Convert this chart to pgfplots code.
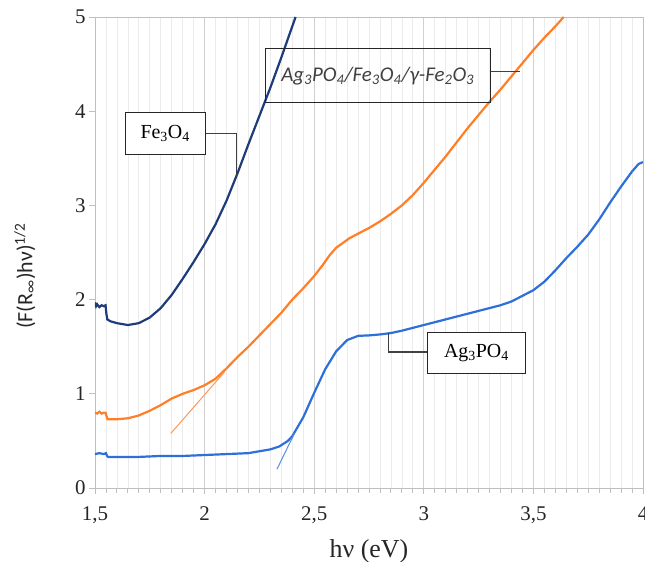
\documentclass[border=0pt]{standalone}
\usepackage{fontspec}
\setmainfont{Liberation Serif}
\newfontfamily\calib{Carlito}
\usepackage{pgfplots}
\pgfplotsset{compat=1.18}

\definecolor{navyc}{HTML}{1F3C7A}
\definecolor{orangec}{HTML}{FF7F27}
\definecolor{bluec}{HTML}{2E6FD8}
\definecolor{gridmaj}{HTML}{D0D0D0}
\definecolor{gridmin}{HTML}{EBEBEB}
\definecolor{axisc}{HTML}{BFBFBF}
\definecolor{connc}{HTML}{404040}

\begin{document}
\begin{tikzpicture}
\begin{axis}[
  scale only axis,
  width=548bp, height=471bp,
  xmin=1.5, xmax=4, ymin=0, ymax=5,
  xtick={1.5,2,...,4}, ytick={0,1,...,5},
  minor x tick num=9,
  xmajorgrids, xminorgrids,
  major grid style={draw=gridmaj, line width=0.9pt},
  minor grid style={draw=gridmin, line width=0.7pt},
  axis line style={draw=axisc, line width=0.9pt},
  tick style={draw=axisc, line width=0.9pt},
  tick align=outside,
  xtick pos=bottom, ytick pos=left,
  major tick length=6bp, minor tick length=5bp,
  /pgf/number format/use comma,
  /pgf/number format/assume math mode=true,
  ticklabel style={font=\rmfamily\fontsize{21}{25}\selectfont, text=black!85},
  xticklabel style={yshift=-9bp},
  xlabel={hν (eV)},
  xlabel style={font=\fontsize{26}{30}\selectfont, text=black!85, yshift=-9bp},
  ylabel={\calib (F(R\textsubscript{∞})hν)\textsuperscript{1/2}},
  ylabel style={font=\fontsize{22}{26}\selectfont, text=black!85,
    at={(axis description cs:-0.128,0.45)}, anchor=center},
]
\coordinate (bl) at (rel axis cs:0,0);
\coordinate (tr) at (rel axis cs:1,1);

% Fe3O4
\addplot[navyc, line width=2.2bp] coordinates {
(1.500,1.97) (1.505,1.93) (1.510,1.95) (1.520,1.92) (1.530,1.94)
(1.540,1.93) (1.548,1.94) (1.552,1.85) (1.556,1.79) (1.570,1.77)
(1.600,1.75) (1.650,1.73) (1.700,1.75) (1.750,1.81) (1.800,1.91)
(1.850,2.05) (1.900,2.22) (1.950,2.40) (2.000,2.59) (2.050,2.80)
(2.100,3.05) (2.150,3.34) (2.200,3.65) (2.250,3.95) (2.300,4.25)
(2.350,4.57) (2.415,5.00)
};

% Ag3PO4/Fe3O4/gamma-Fe2O3
\addplot[orangec, line width=2.2bp] coordinates {
(1.500,0.80) (1.510,0.79) (1.520,0.81) (1.530,0.79) (1.540,0.80)
(1.548,0.80) (1.553,0.76) (1.557,0.73) (1.600,0.73) (1.650,0.74)
(1.700,0.77) (1.750,0.82) (1.800,0.88) (1.850,0.95) (1.900,1.00)
(1.950,1.04) (2.000,1.09) (2.050,1.16) (2.100,1.27) (2.150,1.39)
(2.200,1.50) (2.250,1.62) (2.300,1.74) (2.350,1.86) (2.400,2.00)
(2.450,2.12) (2.500,2.25) (2.540,2.37) (2.570,2.47) (2.600,2.55)
(2.630,2.60) (2.660,2.65) (2.700,2.70) (2.750,2.76) (2.800,2.83)
(2.850,2.91) (2.900,3.00) (2.950,3.11) (3.000,3.24) (3.050,3.38)
(3.100,3.52) (3.150,3.67) (3.200,3.82) (3.250,3.96) (3.300,4.10)
(3.350,4.23) (3.400,4.37) (3.450,4.51) (3.500,4.65) (3.550,4.78)
(3.600,4.90) (3.638,5.00)
};

% Ag3PO4
\addplot[bluec, line width=2.2bp] coordinates {
(1.500,0.36) (1.520,0.37) (1.540,0.36) (1.550,0.37) (1.555,0.34)
(1.560,0.33) (1.600,0.33) (1.700,0.33) (1.800,0.34) (1.900,0.34)
(2.000,0.35) (2.100,0.36) (2.200,0.37) (2.250,0.39) (2.300,0.41)
(2.340,0.44) (2.380,0.50) (2.400,0.55) (2.450,0.75) (2.500,1.01)
(2.550,1.26) (2.600,1.45) (2.650,1.57) (2.700,1.615) (2.750,1.62)
(2.800,1.63) (2.850,1.645) (2.900,1.67) (2.950,1.70) (3.000,1.73)
(3.050,1.76) (3.100,1.79) (3.150,1.82) (3.200,1.85) (3.250,1.88)
(3.300,1.91) (3.350,1.94) (3.400,1.98) (3.450,2.04) (3.500,2.10)
(3.550,2.19) (3.600,2.31) (3.650,2.44) (3.700,2.56) (3.750,2.69)
(3.800,2.85) (3.850,3.03) (3.900,3.20) (3.950,3.36) (3.980,3.44)
(4.000,3.46)
};

% tangent lines
\addplot[orangec!80, line width=1bp] coordinates {(1.846,0.58) (2.09,1.23)};
\addplot[bluec!80, line width=1bp] coordinates {(2.33,0.20) (2.41,0.58)};

% labels
\draw[connc, line width=1.3bp] (axis cs:2.002,3.76) -- (axis cs:2.144,3.76) -- (axis cs:2.144,3.30);
\node[draw=black!85, fill=white, line width=1.1bp, minimum width=80bp, minimum height=42bp, inner sep=0pt,
  font=\fontsize{20}{24}\selectfont] at (axis cs:1.82,3.76) {Fe\textsubscript{3}O\textsubscript{4}};

\draw[connc, line width=1.3bp] (axis cs:3.304,4.42) -- (axis cs:3.441,4.42);
\node[draw=black!85, line width=1.1bp, minimum width=225bp, minimum height=54bp, inner sep=0pt,
  font=\calib\itshape\fontsize{21}{25}\selectfont, text=black!75] at (axis cs:2.79,4.375)
  {Ag\textsubscript{3}PO\textsubscript{4}/Fe\textsubscript{3}O\textsubscript{4}/γ-Fe\textsubscript{2}O\textsubscript{3}};

\draw[connc, line width=1.3bp] (axis cs:3.016,1.444) -- (axis cs:2.838,1.444) -- (axis cs:2.838,1.645);
\node[draw=black!85, fill=white, line width=1.1bp, minimum width=98bp, minimum height=41bp, inner sep=0pt,
  font=\fontsize{20}{24}\selectfont] at (axis cs:3.24,1.43) {Ag\textsubscript{3}PO\textsubscript{4}};
\end{axis}
\pgfresetboundingbox
\path[use as bounding box] ([xshift=-95bp,yshift=-74bp]bl) rectangle ([xshift=2bp,yshift=17bp]tr);
\end{tikzpicture}
\end{document}
